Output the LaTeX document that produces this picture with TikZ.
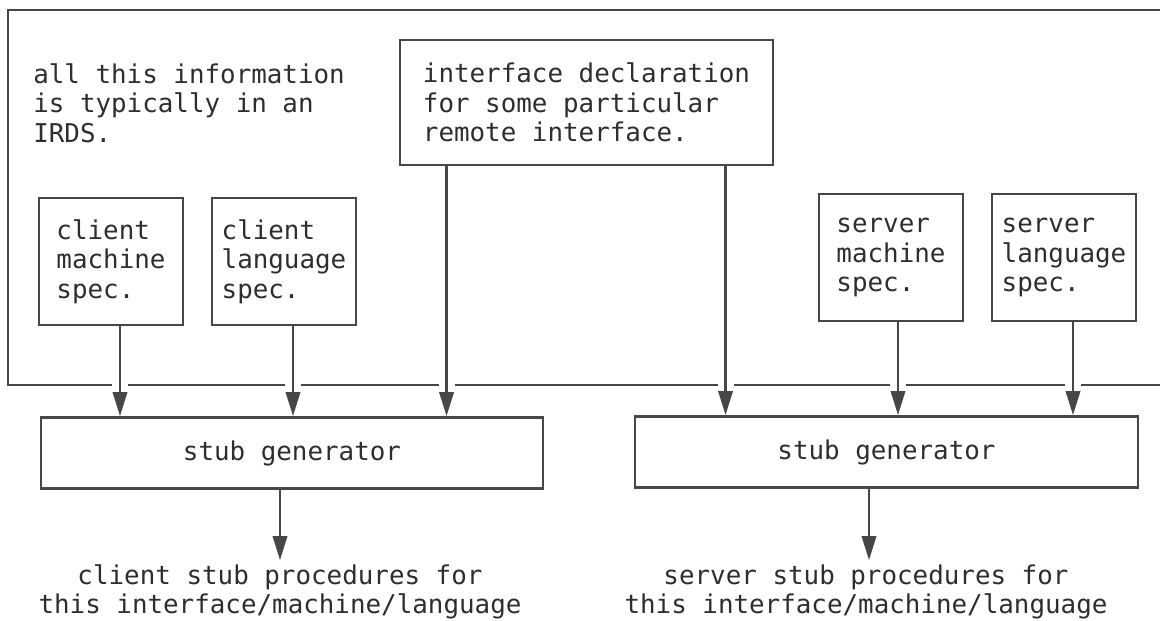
\documentclass[tikz,border=0pt]{standalone}
\usepackage{fontspec}
\setmonofont{DejaVu Sans Mono}
\usepackage{xcolor}
\usetikzlibrary{positioning,arrows.meta,calc}
\definecolor{ink}{HTML}{474747}
\definecolor{txt}{HTML}{2E2E2E}

\begin{document}
\begin{tikzpicture}[x=0.025cm,y=-0.025cm,
  font=\ttfamily\fontsize{18.4}{21}\selectfont, text=txt,
  box/.style={draw=ink,line width=2pt,align=left,inner sep=0pt},
  spec/.style={box,minimum width=3.6cm,minimum height=3.175cm,xshift=0pt},
  gen/.style={box,align=center,minimum width=12.55cm,minimum height=1.775cm},
  note/.style={align=left,inner sep=0pt},
  result/.style={align=center,inner sep=3pt},
  frame/.style={draw=ink,line width=2.1pt},
  feed/.style={draw=ink,line width=1.6pt,-{Triangle[length=0.6cm,width=0.36cm]}}]
\useasboundingbox (0,0) rectangle (1160,620);
% the IRDS region, open on the right
\draw[frame] (1160,10) -- (8,10) -- (8,385) coordinate (fb) -- (1160,385);
\node[note,anchor=west] (irds) at (33,103) {all this information\\is typically in an\\IRDS.};
\node[box,minimum width=9.325cm,minimum height=3.125cm] (ifc) at (586.5,102.5) {interface declaration\\for some particular\\remote interface.};
\node[spec] (cmach) at (111,261.5) {client\\machine\\spec.};
\node[spec] (clang) at (284,261.5) {client\\language\\spec.};
\node[spec] (smach) at (891,257.5) {server\\machine\\spec.};
\node[spec] (slang) at (1064,257.5) {server\\language\\spec.};
\node[gen] (cgen) at (292,453) {stub generator};
\node[gen,minimum width=12.575cm] (sgen) at (886.5,452) {stub generator};
\node[result] (cout) at (280,592) {client stub procedures for\\this interface/machine/language};
\node[result] (sout) at (866,592) {server stub procedures for\\this interface/machine/language};
% arrow tails
\path ($(cmach.south)+(9,0)$) coordinate (a1)
      ($(clang.south)+(9,0)$) coordinate (a2)
      (ifc.south west) ++(48,0) coordinate (a3)
      (ifc.south west) ++(327,0) coordinate (a4)
      ($(smach.south)+(7,0)$) coordinate (a5)
      ($(slang.south)+(9,0)$) coordinate (a6);
\foreach \a in {a1,a2,a3,a4,a5,a6}
  \fill[white] ($(\a |- fb)+(-8,-4)$) rectangle ($(\a |- fb)+(8,4)$);
\foreach \a in {a1,a2,a3} \draw[feed] (\a) -- (\a |- cgen.north);
\foreach \a in {a4,a5,a6} \draw[feed] (\a) -- (\a |- sgen.north);
\draw[feed] (cout |- cgen.south) -- (cout.north);
\draw[feed] ($(sout |- sgen.south)+(3,0)$) coordinate (b2) -- (b2 |- sout.north);
\end{tikzpicture}
\end{document}
